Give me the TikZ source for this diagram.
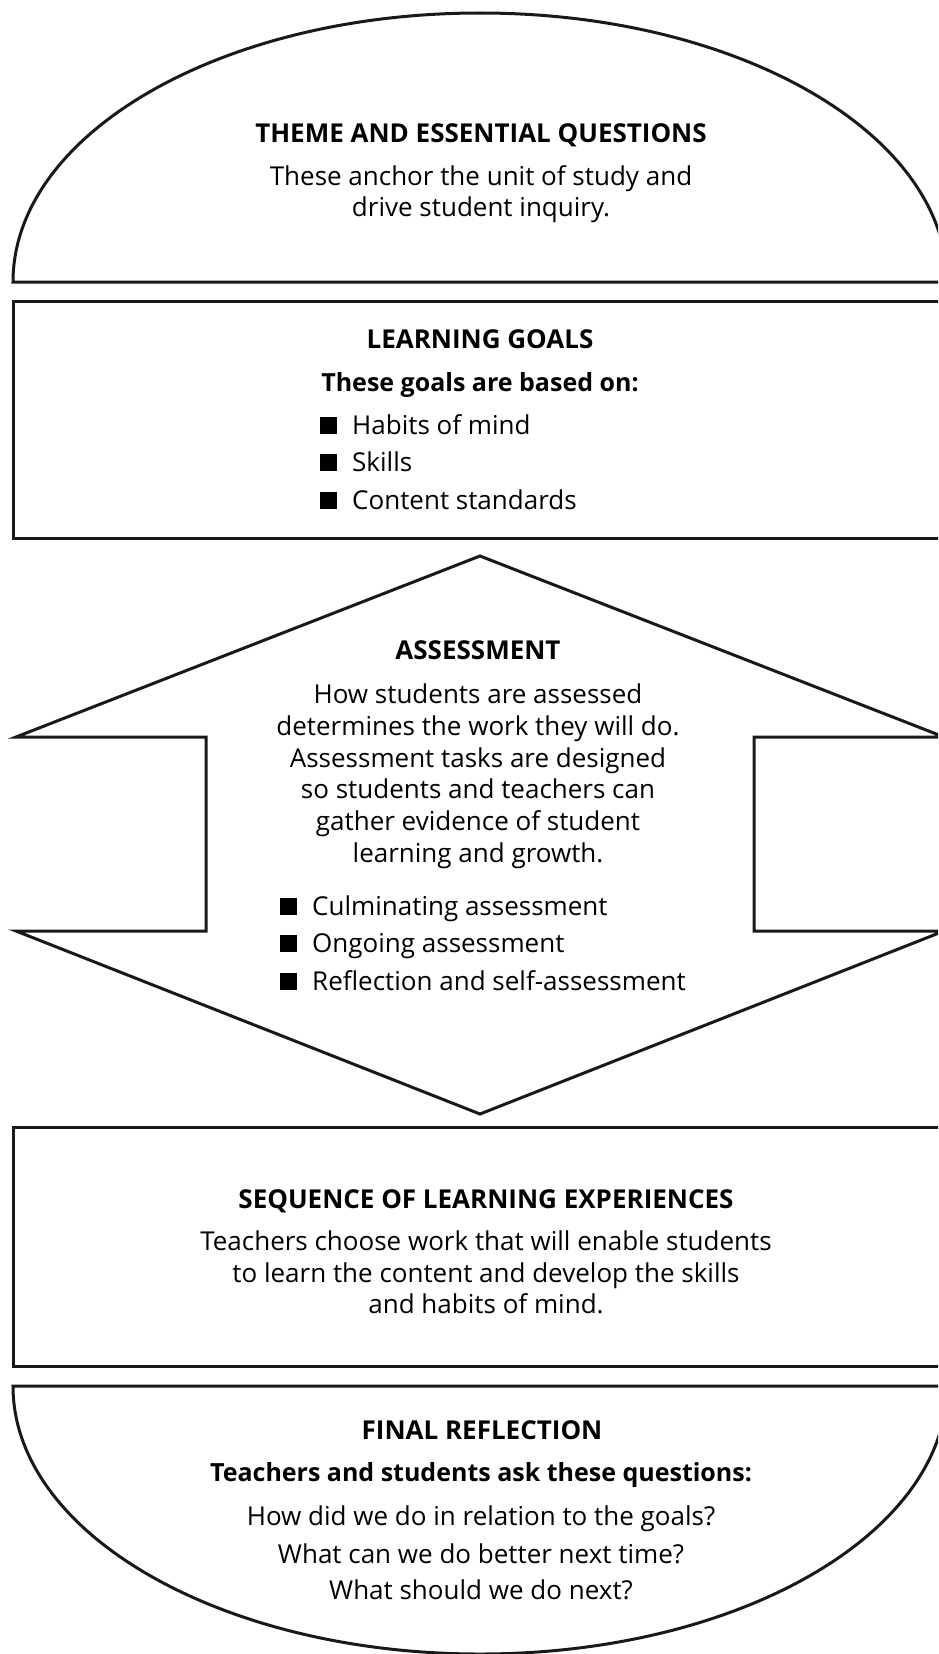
\documentclass[tikz,border=0pt]{standalone}
\usepackage{fontspec}
\setmainfont{Open Sans}
\newcommand\sqbul{\rule{17pt}{17pt}\hspace{15pt}}
\begin{document}
\begin{tikzpicture}[x=1pt,y=-1pt,
  outline/.style={draw=black!90, line width=3pt, line join=miter},
  txt/.style={anchor=base, inner sep=0pt, font=\fontsize{26}{31}\selectfont},
  head/.style={txt, font=\fontsize{26}{31}\selectfont\bfseries},
  subhead/.style={txt, font=\fontsize{25}{30}\selectfont\bfseries},
  item/.style={txt, anchor=base west}]
\useasboundingbox (0,0) rectangle (938,1654);
\clip (0,0) rectangle (938,1654);

% Theme dome
\draw[outline] (13,282) arc[start angle=180,end angle=360,x radius=467,y radius=269] -- cycle;
\node[head] (themeH) at (481,142) {THEME AND ESSENTIAL QUESTIONS};
\node[txt] (theme1) at (481,185) {These anchor the unit of study and};
\node[txt] (theme2) at (481,216) {drive student inquiry.};

% Learning goals
\draw[outline] (13,301) rectangle (947,538);
\node[head] (goalsH) at (480,348) {LEARNING GOALS};
\node[subhead] (goalsSub) at (480,391) {These goals are based on:};
\node[item] (g1) at (320,434) {\sqbul Habits of mind};
\node[item] (g2) at (320,471) {\sqbul Skills};
\node[item] (g3) at (320,509) {\sqbul Content standards};

% Assessment double arrow
\draw[outline] (480,556) -- (16,737) -- (206,737) -- (206,931) -- (16,931)
  -- (480,1114) -- (944,931) -- (754,931) -- (754,737) -- (944,737) -- cycle;
\node[head] (assH) at (478,659) {ASSESSMENT};
\node[txt] (ass1) at (478,703) {How students are assessed};
\node[txt] (ass2) at (478,735) {determines the work they will do.};
\node[txt] (ass3) at (478,767) {Assessment tasks are designed};
\node[txt] (ass4) at (478,798) {so students and teachers can};
\node[txt] (ass5) at (478,830) {gather evidence of student};
\node[txt] (ass6) at (478,862) {learning and growth.};
\node[item] (a1) at (280,915) {\sqbul Culminating assessment};
\node[item] (a2) at (280,952) {\sqbul Ongoing assessment};
\node[item] (a3) at (280,990) {\sqbul Reflection and self-assessment};

% Sequence of learning experiences
\draw[outline] (13,1127) rectangle (947,1366);
\node[head] (seqH) at (486,1208) {SEQUENCE OF LEARNING EXPERIENCES};
\node[txt] (seq1) at (486,1250) {Teachers choose work that will enable students};
\node[txt] (seq2) at (486,1282) {to learn the content and develop the skills};
\node[txt] (seq3) at (486,1313) {and habits of mind.};

% Final reflection bowl
\draw[outline] (13,1386) arc[start angle=180,end angle=0,x radius=467,y radius=268] -- cycle;
\node[head] (finH) at (482,1439) {FINAL REFLECTION};
\node[subhead] (finSub) at (481,1481) {Teachers and students ask these questions:};
\node[txt] (fin1) at (481,1525) {How did we do in relation to the goals?};
\node[txt] (fin2) at (481,1563) {What can we do better next time?};
\node[txt] (fin3) at (481,1599) {What should we do next?};
\end{tikzpicture}
\end{document}
